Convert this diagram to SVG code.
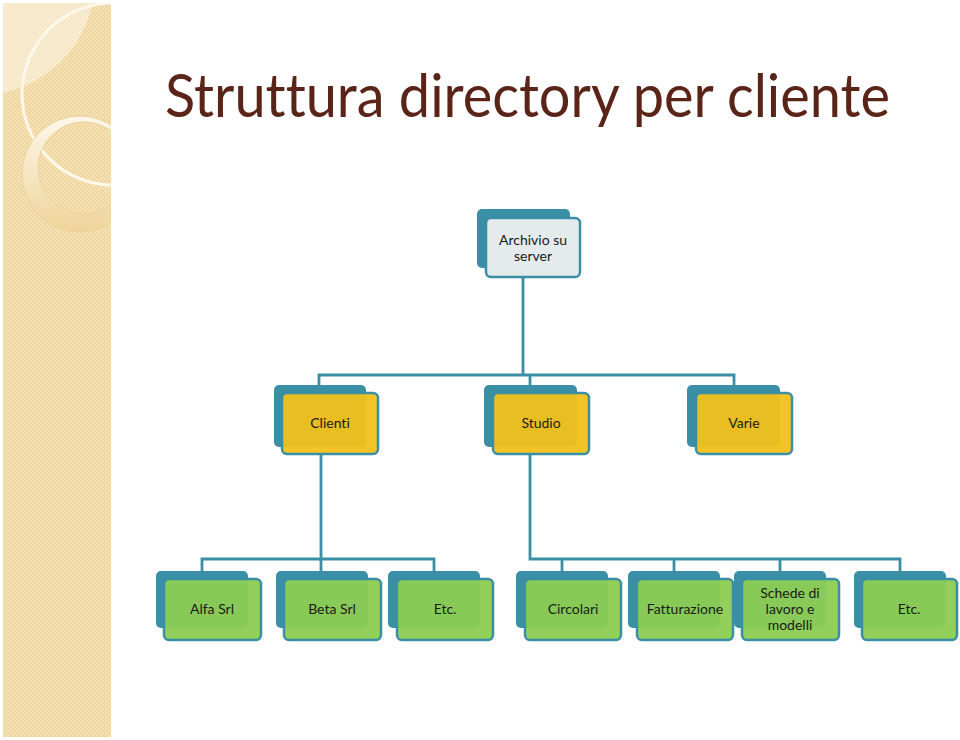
<svg xmlns="http://www.w3.org/2000/svg" width="960" height="740" viewBox="0 0 960 740">
<defs>
<pattern id="chk" width="4" height="4" patternUnits="userSpaceOnUse">
<rect width="4" height="4" fill="#f5e1b6"/>
<rect width="2" height="2" fill="#efd6a0"/>
<rect x="2" y="2" width="2" height="2" fill="#efd6a0"/>
</pattern>
<linearGradient id="ring" x1="0" y1="0" x2="0" y2="1">
<stop offset="0" stop-color="#fdf7ea"/>
<stop offset="1" stop-color="#efd49a"/>
</linearGradient>
<clipPath id="panel"><rect x="3" y="3" width="108" height="734"/></clipPath>
</defs>
<style>
.back{fill:#3a8ea5;}
.front{stroke:#3a8ea5;stroke-width:2.5;}
.gray{fill:#e5eaec;}
.yel{fill:#f2c11a;fill-opacity:0.95;}
.grn{fill:#8ccd52;fill-opacity:0.95;}
.lbl{font-family:Lato,"Open Sans",sans-serif;font-size:14px;fill:#1a1a1a;text-anchor:middle;font-variant-ligatures:none;}
.conn{fill:none;stroke:#3a8ea5;stroke-width:2.8;}
</style>
<rect width="960" height="740" fill="#ffffff"/>
<g id="panelbg" clip-path="url(#panel)">
<rect x="3" y="3" width="108" height="734" fill="url(#chk)"/>
<circle cx="-20" cy="-20" r="115" fill="#ffffff" fill-opacity="0.4"/>
<circle cx="113" cy="94" r="91" fill="none" stroke="#fef8ec" stroke-width="3"/>
<path d="M22,174 a58,58 0 1,0 116,0 a58,58 0 1,0 -116,0 Z M38,168 a46,46 0 1,1 92,0 a46,46 0 1,1 -92,0 Z" fill="url(#ring)" fill-rule="evenodd" stroke="#ead29c" stroke-width="1"/>
</g>
<text x="165" y="117" font-family="Lato,'Open Sans',sans-serif" font-size="60" fill="#5a2418" textLength="725" lengthAdjust="spacingAndGlyphs" style="font-variant-ligatures:none">Struttura directory per cliente</text>
<g id="connectors">
<path class="conn" d="M523,277 V375 M319,385 V375 H734 V385 M530,375 V385"/>
<path class="conn" d="M321,454 V559 M202,571 V559 H434 V571 M321,559 V571"/>
<path class="conn" d="M530,454 V559 H900 V571 M562,559 V571 M674,559 V571 M780,559 V571"/>
</g>
<g id="archivio">
<rect class="back" x="477" y="209" width="93" height="59" rx="5"/>
<rect class="front gray" x="486" y="218" width="94" height="59" rx="5"/>
<text class="lbl" x="533" y="245">Archivio su</text>
<text class="lbl" x="533" y="261">server</text>
</g>
<g id="clienti">
<rect class="back" x="274" y="385" width="92" height="62" rx="5"/>
<rect class="front yel" x="282" y="393" width="96" height="61" rx="5"/>
<text class="lbl" x="330" y="428">Clienti</text>
</g>
<g id="studio">
<rect class="back" x="484" y="385" width="93" height="62" rx="5"/>
<rect class="front yel" x="493" y="393" width="96" height="61" rx="5"/>
<text class="lbl" x="541" y="428">Studio</text>
</g>
<g id="varie">
<rect class="back" x="687" y="385" width="93" height="62" rx="5"/>
<rect class="front yel" x="696" y="393" width="96" height="61" rx="5"/>
<text class="lbl" x="744" y="428">Varie</text>
</g>
<g id="alfa">
<rect class="back" x="156" y="571" width="92" height="57" rx="5"/>
<rect class="front grn" x="164" y="579" width="97" height="61" rx="5"/>
<text class="lbl" x="212" y="614">Alfa Srl</text>
</g>
<g id="beta">
<rect class="back" x="276" y="571" width="92" height="57" rx="5"/>
<rect class="front grn" x="284" y="579" width="97" height="61" rx="5"/>
<text class="lbl" x="332" y="614">Beta Srl</text>
</g>
<g id="etc1">
<rect class="back" x="388" y="571" width="92" height="57" rx="5"/>
<rect class="front grn" x="397" y="579" width="96" height="61" rx="5"/>
<text class="lbl" x="445" y="614">Etc.</text>
</g>
<g id="circolari">
<rect class="back" x="516" y="571" width="92" height="57" rx="5"/>
<rect class="front grn" x="525" y="579" width="96" height="61" rx="5"/>
<text class="lbl" x="573" y="614">Circolari</text>
</g>
<g id="fatturazione">
<rect class="back" x="628" y="571" width="92" height="57" rx="5"/>
<rect class="front grn" x="637" y="579" width="96" height="61" rx="5"/>
<text class="lbl" x="685" y="614">Fatturazione</text>
</g>
<g id="schede">
<rect class="back" x="734" y="571" width="92" height="57" rx="5"/>
<rect class="front grn" x="742" y="579" width="97" height="61" rx="5"/>
<text class="lbl" x="790" y="598">Schede di</text>
<text class="lbl" x="790" y="614">lavoro e</text>
<text class="lbl" x="790" y="630">modelli</text>
</g>
<g id="etc2">
<rect class="back" x="854" y="571" width="92" height="57" rx="5"/>
<rect class="front grn" x="862" y="579" width="95" height="61" rx="5"/>
<text class="lbl" x="909" y="614">Etc.</text>
</g>
</svg>
